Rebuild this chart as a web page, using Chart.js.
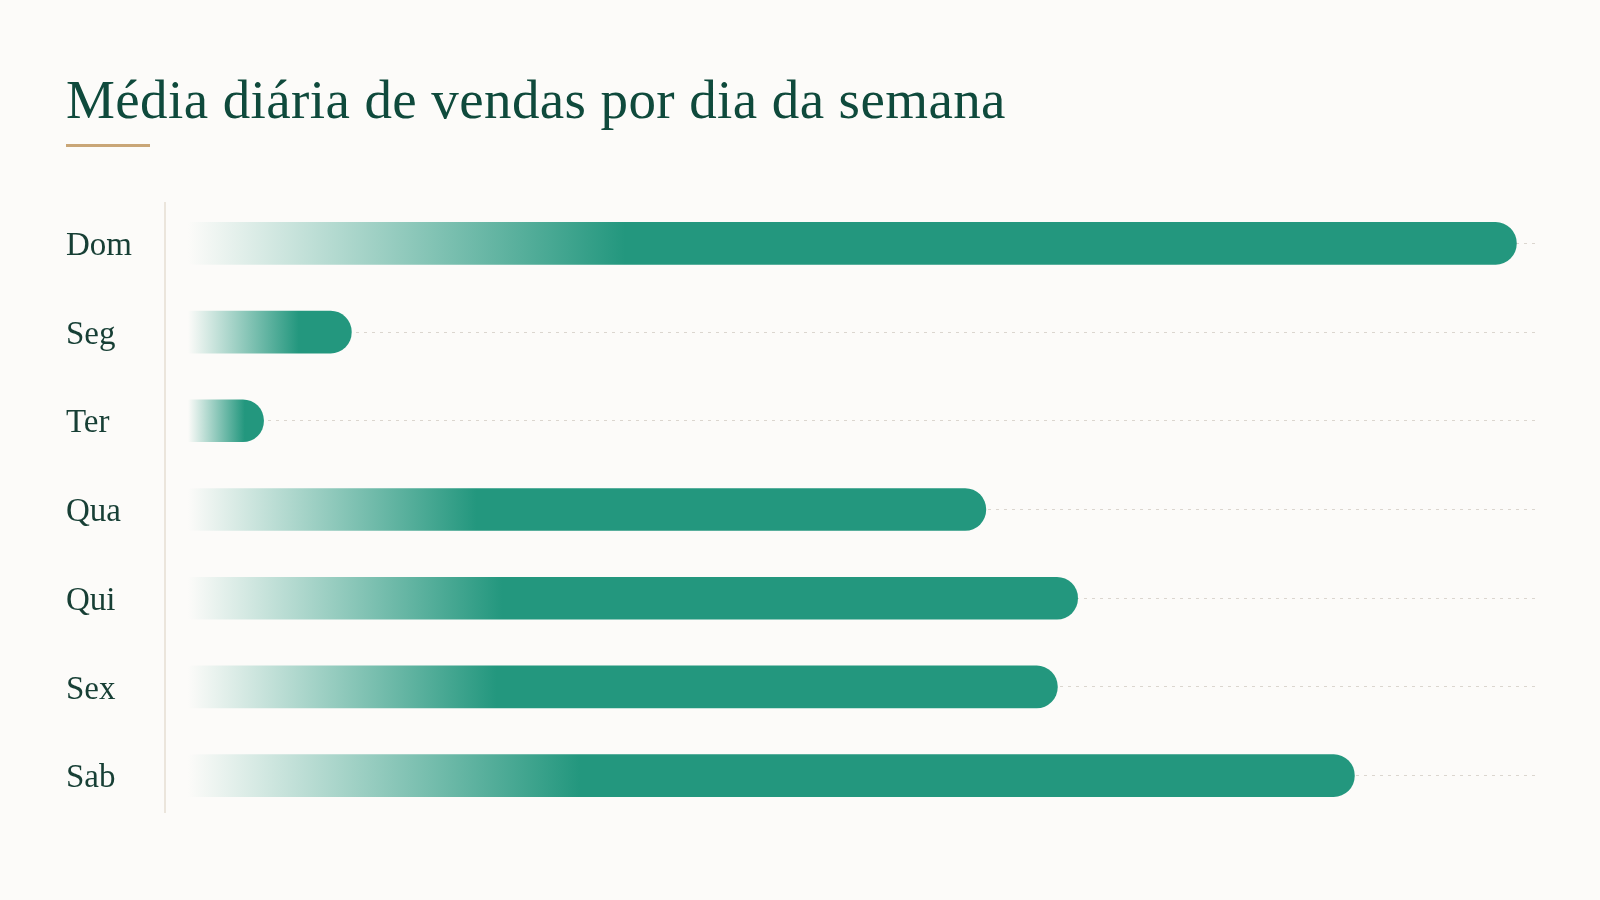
<!DOCTYPE html>
<html>
<head>
<meta charset="utf-8">
<script src="https://cdn.jsdelivr.net/npm/chart.js@4"></script>
<style>
  html, body { margin: 0; padding: 0; background: #fcfbf9; }
  #wrap { position: relative; width: 1600px; height: 900px; overflow: hidden; background: #fcfbf9; }
  #title { position: absolute; left: 66px; top: 72px; margin: 0; font-family: "Liberation Serif", "DejaVu Serif", serif; font-weight: 400; font-size: 55px; line-height: 55px; color: #0f4a3c; letter-spacing: 0.4px; white-space: nowrap; }
  #rule { position: absolute; left: 66px; top: 144px; width: 84px; height: 3px; background: #c9a677; }
  #c { position: absolute; left: 0; top: 0; }
</style>
</head>
<body>
<div id="wrap">
  <h1 id="title">Média diária de vendas por dia da semana</h1>
  <div id="rule"></div>
  <canvas id="c" width="1600" height="900"></canvas>
</div>
<script>
const categories = ["Dom", "Seg", "Ter", "Qua", "Qui", "Sex", "Sab"];
const salesAverage = [98.4, 12.1, 5.6, 59.1, 65.9, 64.4, 86.4];
const axisMax = 100;

const BG = "#fcfbf9";
const GREEN = "#23977e";

function barGradient(context) {
  const chart = context.chart;
  const xs = chart.scales.x;
  if (!xs || !chart.chartArea) return GREEN;
  const v = context.raw;
  const x0 = xs.getPixelForValue(0);
  const x1 = xs.getPixelForValue(v);
  const len = Math.max(1, x1 - x0);
  const fade = Math.min(len * 0.75, 65 + 0.28 * len);
  const g = chart.ctx.createLinearGradient(x0, 0, x1, 0);
  g.addColorStop(0, BG);
  g.addColorStop(Math.min(1, fade / len), GREEN);
  g.addColorStop(1, GREEN);
  return g;
}

const axisLine = {
  id: "axisLine",
  beforeDraw(chart) {
    const { ctx, chartArea } = chart;
    ctx.save();
    ctx.strokeStyle = "#e6ded2";
    ctx.lineWidth = 1.5;
    ctx.beginPath();
    const x = chartArea.left - 23;
    ctx.moveTo(x, chartArea.top + 3);
    ctx.lineTo(x, chartArea.bottom - 7);
    ctx.stroke();
    ctx.restore();
  }
};

new Chart(document.getElementById("c"), {
  type: "bar",
  data: {
    labels: categories,
    datasets: [{
      data: salesAverage,
      backgroundColor: barGradient,
      borderWidth: 0,
      borderRadius: 21,
      borderSkipped: "start",
      barThickness: 42
    }]
  },
  options: {
    indexAxis: "y",
    responsive: false,
    animation: false,
    layout: { padding: { left: 66, right: 62, top: 199, bottom: 80 } },
    plugins: { legend: { display: false }, tooltip: { enabled: false }, title: { display: false } },
    scales: {
      x: {
        min: 0, max: axisMax,
        display: false,
        grid: { display: false }
      },
      y: {
        afterFit(scale) { scale.width = 122; },
        border: { display: false, dash: [3, 5] },
        grid: {
          offset: false,
          drawTicks: false,
          color: "#dbd6cf",
          lineWidth: 1
        },
        ticks: {
          crossAlign: "far",
          padding: 0,
          labelOffset: 3,
          color: "#173f35",
          font: { family: "'Liberation Serif', 'DejaVu Serif', serif", size: 33 }
        }
      }
    }
  },
  plugins: [axisLine]
});
</script>
</body>
</html>
